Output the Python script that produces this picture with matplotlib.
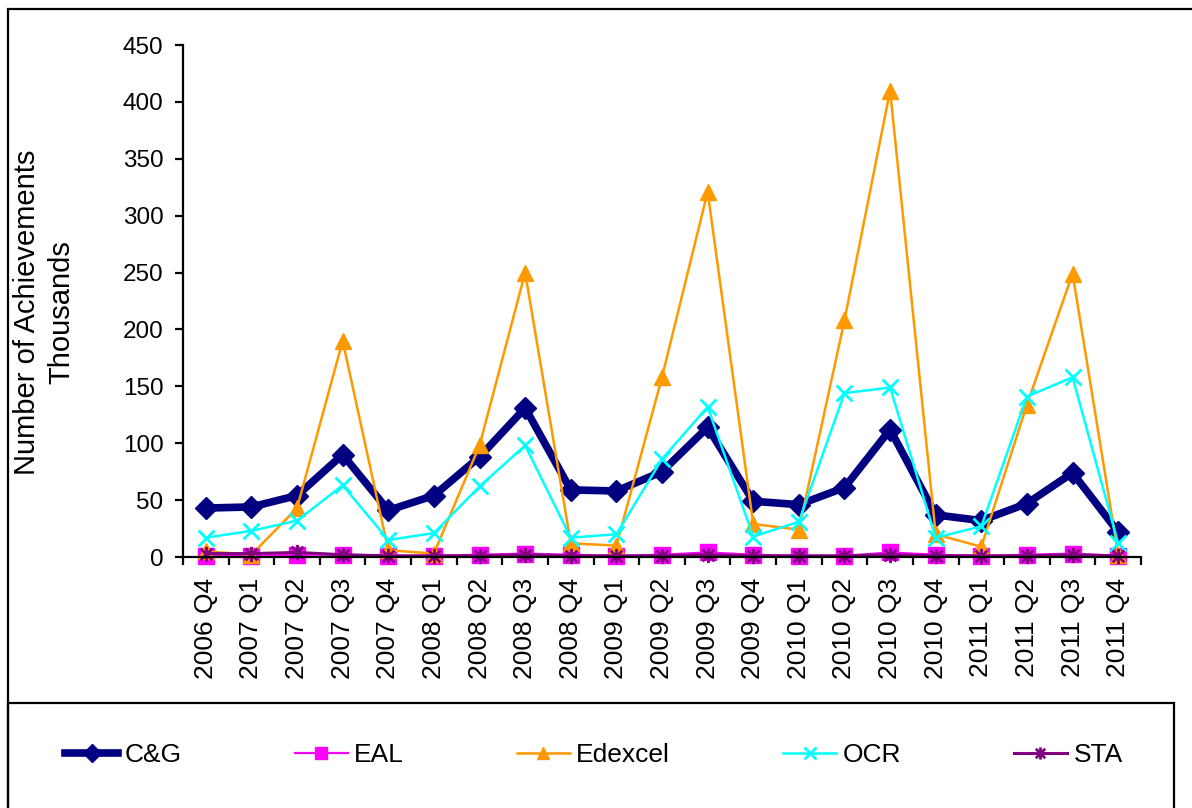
import matplotlib
matplotlib.use("Agg")
import matplotlib.pyplot as plt
from matplotlib.path import Path
from matplotlib.patches import Rectangle
import numpy as np

plt.rcParams['font.family'] = ['Liberation Sans', 'DejaVu Sans']

categories = ["2006 Q4", "2007 Q1", "2007 Q2", "2007 Q3", "2007 Q4",
              "2008 Q1", "2008 Q2", "2008 Q3", "2008 Q4",
              "2009 Q1", "2009 Q2", "2009 Q3", "2009 Q4",
              "2010 Q1", "2010 Q2", "2010 Q3", "2010 Q4",
              "2011 Q1", "2011 Q2", "2011 Q3", "2011 Q4"]
cg      = [43, 44, 54, 90, 41, 54, 88, 131, 59, 58, 75, 114, 49, 46, 61, 112, 37, 32, 47, 74, 22]
eal     = [1, 1, 2, 2, 1, 1, 2, 3, 2, 1, 2, 4, 2, 1, 1, 4, 2, 1, 2, 3, 1]
edexcel = [5, 2, 43, 190, 6, 3, 98, 250, 12, 10, 158, 321, 29, 24, 208, 410, 20, 9, 134, 249, 2]
ocr     = [17, 23, 32, 63, 15, 21, 62, 98, 17, 20, 86, 132, 18, 31, 144, 149, 17, 27, 141, 158, 12]
sta     = [3, 3, 4, 2, 1, 1, 1, 2, 1, 1, 1, 2, 1, 1, 1, 2, 1, 1, 1, 2, 1]
yticks = [0, 50, 100, 150, 200, 250, 300, 350, 400, 450]

W, H = 1192, 808
fig = plt.figure(figsize=(W/100, H/100), dpi=100)
fig.patch.set_facecolor('white')

# outer chart frame and legend box
fig.add_artist(Rectangle((8/W, -0.05), 1.2, (H-9)/H + 0.05, transform=fig.transFigure,
                         fill=False, edgecolor='black', linewidth=1.6))
fig.add_artist(Rectangle((8/W, -0.05), (1174-8)/W, (H-703)/H + 0.05, transform=fig.transFigure,
                         fill=False, edgecolor='black', linewidth=1.6))

ax = fig.add_axes([183/W, (H-557)/H, (1141-183)/W, (557-45)/H])
x = np.arange(len(categories))

star = Path([(-1, -1), (1, 1), (-1, 1), (1, -1), (0, -1.3), (0, 1.3)],
            [Path.MOVETO, Path.LINETO, Path.MOVETO, Path.LINETO, Path.MOVETO, Path.LINETO])

ax.plot(x, cg, color='#000080', lw=5.5, marker='D', ms=11, mec='#000080', mfc='#000080',
        label='C&G', clip_on=False)
ax.plot(x, eal, color='#FF00FF', lw=1.6, marker='s', ms=11, mec='#FF00FF', mfc='#FF00FF',
        label='EAL', clip_on=False)
ax.plot(x, edexcel, color='#FF9900', lw=1.8, marker='^', ms=11, mec='#FF9900', mfc='#FF9900',
        label='Edexcel', clip_on=False)
ax.plot(x, ocr, color='#00FFFF', lw=1.8, marker='x', ms=11, mew=2, mec='#00FFFF',
        label='OCR', clip_on=False)
ax.plot(x, sta, color='#800080', lw=2.2, marker=star, ms=11, mew=2, mec='#800080',
        mfc='none', label='STA', clip_on=False)

ax.set_xlim(-0.5, len(categories) - 0.5)
ax.set_ylim(0, 450)
ax.set_yticks(yticks)
ax.set_xticks(x)
ax.set_xticklabels(categories, rotation=90, fontsize=19)
ax.set_xticks(np.arange(-0.5, len(categories)), minor=True)
ax.tick_params(axis='x', which='major', length=0, pad=15)
ax.tick_params(axis='x', which='minor', length=6, width=1.6, direction='out')
ax.tick_params(axis='y', which='major', length=6, width=1.6, direction='out', labelsize=17.5, pad=8)

for s in ['top', 'right']:
    ax.spines[s].set_visible(False)
for s in ['left', 'bottom']:
    ax.spines[s].set_linewidth(1.6)

ax.set_ylabel("Number of Achievements\nThousands", fontsize=21, linespacing=1.3)
ax.yaxis.set_label_coords(-0.112, 0.478)

leg = fig.legend(loc='center', bbox_to_anchor=(594/W, (H-755)/H), ncol=5, frameon=False,
                 fontsize=19, handlelength=2.0, handletextpad=0.25, columnspacing=4.28,
                 markerscale=0.8)

fig.savefig("out.png", dpi=100, facecolor='white')
